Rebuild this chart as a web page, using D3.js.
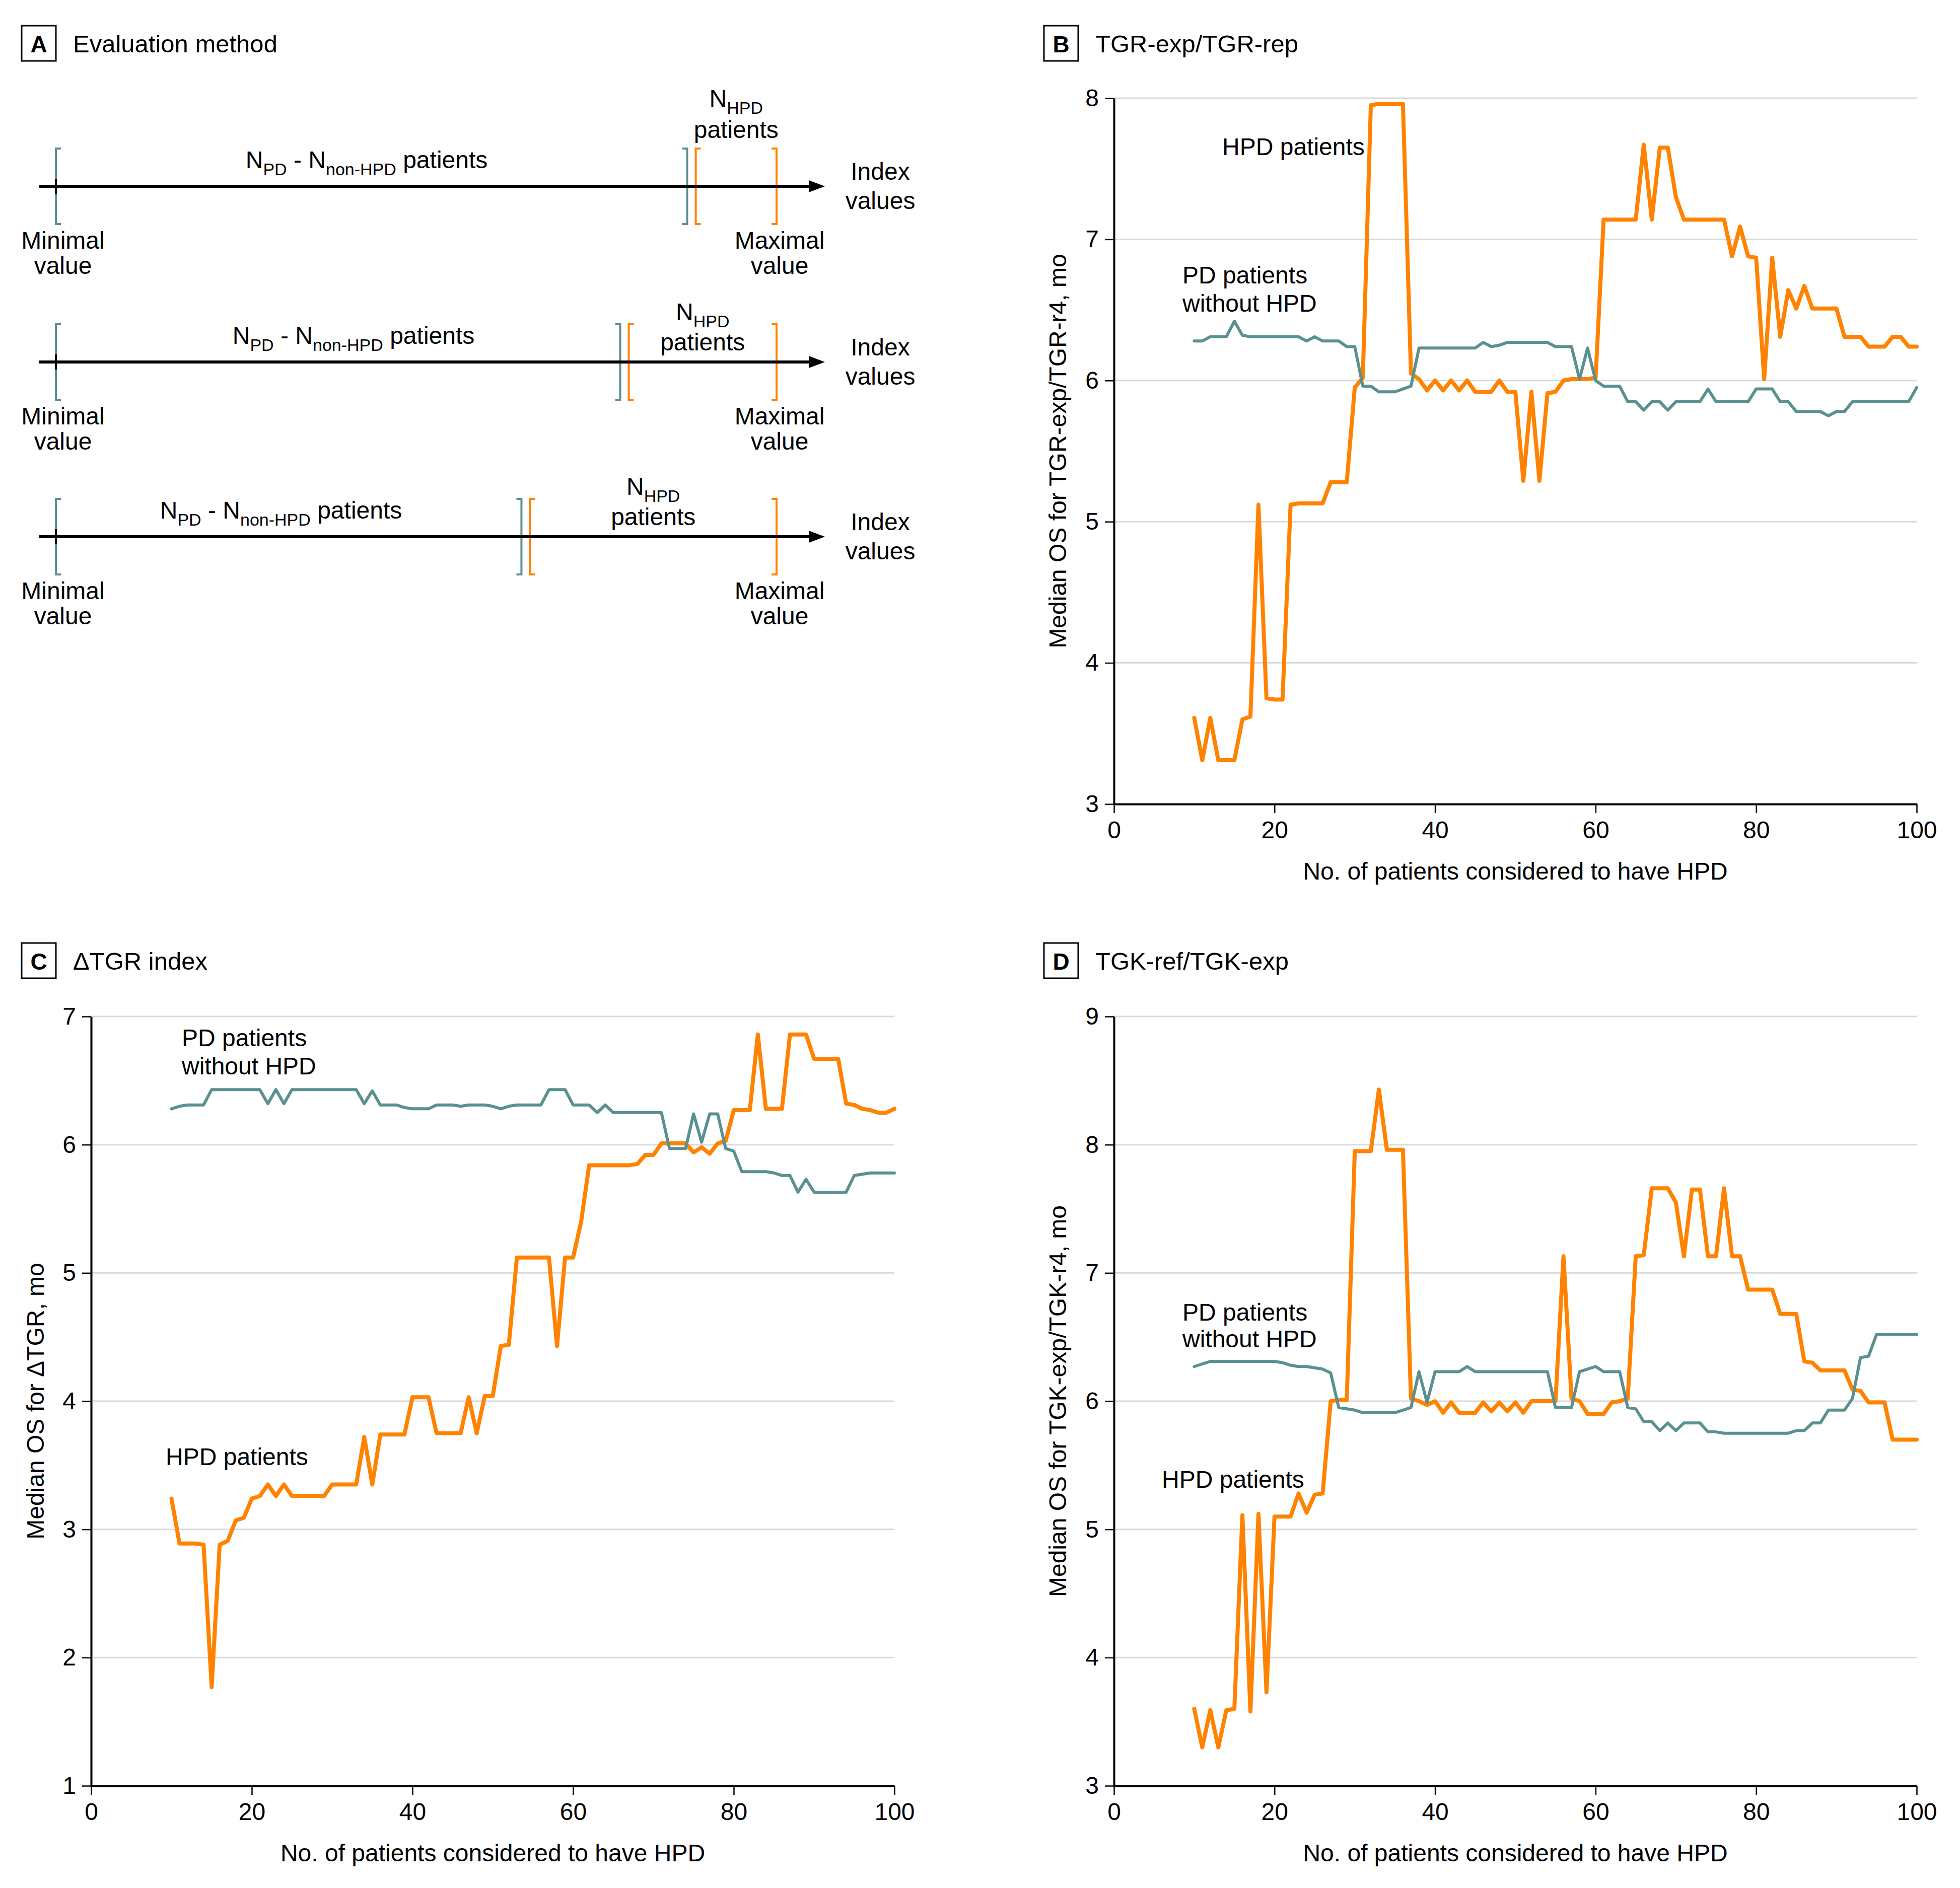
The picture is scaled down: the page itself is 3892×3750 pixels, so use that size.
<!DOCTYPE html>
<html>
<head>
<meta charset="utf-8">
<script src="https://cdn.jsdelivr.net/npm/d3@7"></script>
<style>
  body { margin: 0; background: #fff; }
  text { font-family: "Liberation Sans", Arial, sans-serif; white-space: pre; }
</style>
</head>
<body>
<svg id="fig" width="3892" height="3750"></svg>
<script>
// number of patients considered to have HPD runs from 10 to 100, one value each
var firstN = 10;

// B: TGR-exp/TGR-rep
var tgrHpd = [3.61, 3.31, 3.61, 3.31, 3.31, 3.31, 3.60, 3.62, 5.12, 3.75,
  3.74, 3.74, 5.12, 5.13, 5.13, 5.13, 5.13, 5.28, 5.28, 5.28,
  5.95, 6.02, 7.95, 7.96, 7.96, 7.96, 7.96, 6.05, 6.01, 5.93,
  6.00, 5.93, 6.00, 5.93, 6.00, 5.92, 5.92, 5.92, 6.00, 5.92,
  5.92, 5.29, 5.92, 5.29, 5.91, 5.92, 6.00, 6.01, 6.01, 6.01,
  6.02, 7.14, 7.14, 7.14, 7.14, 7.14, 7.67, 7.14, 7.65, 7.65,
  7.30, 7.14, 7.14, 7.14, 7.14, 7.14, 7.14, 6.88, 7.09, 6.88,
  6.87, 6.01, 6.87, 6.31, 6.64, 6.51, 6.67, 6.51, 6.51, 6.51,
  6.51, 6.31, 6.31, 6.31, 6.24, 6.24, 6.24, 6.31, 6.31, 6.24,
  6.24];
var tgrPd = [6.28, 6.28, 6.31, 6.31, 6.31, 6.42, 6.32, 6.31, 6.31, 6.31,
  6.31, 6.31, 6.31, 6.31, 6.28, 6.31, 6.28, 6.28, 6.28, 6.24,
  6.24, 5.96, 5.96, 5.92, 5.92, 5.92, 5.94, 5.96, 6.23, 6.23,
  6.23, 6.23, 6.23, 6.23, 6.23, 6.23, 6.27, 6.24, 6.25, 6.27,
  6.27, 6.27, 6.27, 6.27, 6.27, 6.24, 6.24, 6.24, 6.01, 6.23,
  6.00, 5.96, 5.96, 5.96, 5.85, 5.85, 5.79, 5.85, 5.85, 5.79,
  5.85, 5.85, 5.85, 5.85, 5.94, 5.85, 5.85, 5.85, 5.85, 5.85,
  5.94, 5.94, 5.94, 5.85, 5.85, 5.78, 5.78, 5.78, 5.78, 5.75,
  5.78, 5.78, 5.85, 5.85, 5.85, 5.85, 5.85, 5.85, 5.85, 5.85,
  5.95];

// C: delta TGR index
var dtgrHpd = [3.24, 2.89, 2.89, 2.89, 2.88, 1.77, 2.88, 2.91, 3.07, 3.09,
  3.24, 3.26, 3.35, 3.26, 3.35, 3.26, 3.26, 3.26, 3.26, 3.26,
  3.35, 3.35, 3.35, 3.35, 3.72, 3.35, 3.74, 3.74, 3.74, 3.74,
  4.03, 4.03, 4.03, 3.75, 3.75, 3.75, 3.75, 4.03, 3.75, 4.04,
  4.04, 4.43, 4.44, 5.12, 5.12, 5.12, 5.12, 5.12, 4.43, 5.12,
  5.12, 5.40, 5.84, 5.84, 5.84, 5.84, 5.84, 5.84, 5.85, 5.92,
  5.92, 6.01, 6.01, 6.01, 6.01, 5.94, 5.98, 5.93, 6.01, 6.03,
  6.27, 6.27, 6.27, 6.86, 6.28, 6.28, 6.28, 6.86, 6.86, 6.86,
  6.67, 6.67, 6.67, 6.67, 6.32, 6.31, 6.28, 6.27, 6.25, 6.25,
  6.28];
var dtgrPd = [6.28, 6.30, 6.31, 6.31, 6.31, 6.43, 6.43, 6.43, 6.43, 6.43,
  6.43, 6.43, 6.32, 6.43, 6.32, 6.43, 6.43, 6.43, 6.43, 6.43,
  6.43, 6.43, 6.43, 6.43, 6.32, 6.42, 6.31, 6.31, 6.31, 6.29,
  6.28, 6.28, 6.28, 6.31, 6.31, 6.31, 6.30, 6.31, 6.31, 6.31,
  6.30, 6.28, 6.30, 6.31, 6.31, 6.31, 6.31, 6.43, 6.43, 6.43,
  6.31, 6.31, 6.31, 6.25, 6.31, 6.25, 6.25, 6.25, 6.25, 6.25,
  6.25, 6.25, 5.97, 5.97, 5.97, 6.24, 6.02, 6.24, 6.24, 5.97,
  5.95, 5.79, 5.79, 5.79, 5.79, 5.78, 5.76, 5.76, 5.63, 5.73,
  5.63, 5.63, 5.63, 5.63, 5.63, 5.76, 5.77, 5.78, 5.78, 5.78,
  5.78];

// D: TGK-ref/TGK-exp
var tgkHpd = [3.60, 3.30, 3.59, 3.30, 3.59, 3.60, 5.11, 3.58, 5.12, 3.73,
  5.10, 5.10, 5.10, 5.28, 5.13, 5.27, 5.28, 6.00, 6.01, 6.01,
  7.95, 7.95, 7.95, 8.43, 7.96, 7.96, 7.96, 6.02, 6.00, 5.97,
  6.00, 5.91, 5.99, 5.91, 5.91, 5.91, 5.99, 5.92, 5.99, 5.92,
  5.99, 5.91, 6.00, 6.00, 6.00, 6.00, 7.13, 6.02, 6.00, 5.90,
  5.90, 5.90, 5.99, 6.00, 6.02, 7.13, 7.14, 7.66, 7.66, 7.66,
  7.55, 7.13, 7.65, 7.65, 7.13, 7.13, 7.66, 7.13, 7.13, 6.87,
  6.87, 6.87, 6.87, 6.68, 6.68, 6.68, 6.31, 6.30, 6.24, 6.24,
  6.24, 6.24, 6.09, 6.08, 5.99, 5.99, 5.99, 5.70, 5.70, 5.70,
  5.70];
var tgkPd = [6.27, 6.29, 6.31, 6.31, 6.31, 6.31, 6.31, 6.31, 6.31, 6.31,
  6.31, 6.30, 6.28, 6.27, 6.27, 6.26, 6.25, 6.22, 5.95, 5.94,
  5.93, 5.91, 5.91, 5.91, 5.91, 5.91, 5.93, 5.95, 6.23, 5.99,
  6.23, 6.23, 6.23, 6.23, 6.27, 6.23, 6.23, 6.23, 6.23, 6.23,
  6.23, 6.23, 6.23, 6.23, 6.23, 5.95, 5.95, 5.95, 6.23, 6.25,
  6.27, 6.23, 6.23, 6.23, 5.95, 5.94, 5.84, 5.84, 5.77, 5.83,
  5.77, 5.83, 5.83, 5.83, 5.76, 5.76, 5.75, 5.75, 5.75, 5.75,
  5.75, 5.75, 5.75, 5.75, 5.75, 5.77, 5.77, 5.83, 5.83, 5.93,
  5.93, 5.93, 6.02, 6.34, 6.35, 6.52, 6.52, 6.52, 6.52, 6.52,
  6.52];

var xTicks = [0, 20, 40, 60, 80, 100];
var tgrTicks = [3, 4, 5, 6, 7, 8];
var dtgrTicks = [1, 2, 3, 4, 5, 6, 7];
var tgkTicks = [3, 4, 5, 6, 7, 8, 9];

// panel A: where the HPD group starts on the index axis (fraction of the range)
var cutoffs = [0.876, 0.783, 0.646];

var ORANGE = "#ff8200", TEAL = "#5a9190";
var svg = d3.select("#fig");
svg.append("rect").attr("width", 3892).attr("height", 3750).attr("fill", "#fff");

function panelTitle(letter, title, x, baseline) {
  svg.append("rect").attr("x", x).attr("y", baseline - 53).attr("width", 68).attr("height", 70)
    .attr("fill", "none").attr("stroke", "#000").attr("stroke-width", 3);
  svg.append("text").attr("x", x + 34).attr("y", baseline).attr("text-anchor", "middle")
    .attr("font-size", 46).attr("font-weight", "bold").text(letter);
  svg.append("text").attr("x", x + 102).attr("y", baseline).attr("font-size", 49).text(title);
}

function subText(sel, parts) {
  // parts: [text, isSub]
  var sub = false;
  parts.forEach(function (p) {
    var t = sel.append("tspan").text(p[0]);
    if (p[1] && !sub) { t.attr("font-size", 34).attr("dy", 14); sub = true; }
    else if (!p[1] && sub) { t.attr("font-size", 48).attr("dy", -14); sub = false; }
  });
}

// ---- panel A ----
panelTitle("A", "Evaluation method", 43, 104);
var idx = d3.scaleLinear().domain([0, 1]).range([111, 1542]);
var rowY = [370, 719, 1066];
var npdX = [728, 702, 558];
var nhpdDy = [[-158, -96], [-83, -23], [-83, -23]];

function bracket(g, x, y, dir, color) {
  // dir 1 = "[" , -1 = "]"
  g.append("path")
    .attr("d", "M" + (x + dir * 10) + "," + (y - 75) + "H" + x + "V" + (y + 75) + "H" + (x + dir * 10))
    .attr("fill", "none").attr("stroke", color).attr("stroke-width", 4);
}

rowY.forEach(function (y, i) {
  var g = svg.append("g");
  var cut = idx(cutoffs[i]);
  bracket(g, idx(0), y, 1, TEAL);
  bracket(g, cut, y, -1, TEAL);
  bracket(g, cut + 17, y, 1, ORANGE);
  bracket(g, idx(1), y, -1, ORANGE);
  g.append("line").attr("x1", 78).attr("x2", 1612).attr("y1", y).attr("y2", y)
    .attr("stroke", "#000").attr("stroke-width", 6);
  g.append("path").attr("d", "M1638," + y + "L1606," + (y - 12) + "L1606," + (y + 12) + "Z").attr("fill", "#000");
  g.append("line").attr("x1", idx(0)).attr("x2", idx(0)).attr("y1", y - 15).attr("y2", y + 15)
    .attr("stroke", "#000").attr("stroke-width", 4);

  var t1 = g.append("text").attr("x", npdX[i]).attr("y", y - 36).attr("text-anchor", "middle").attr("font-size", 48);
  subText(t1, [["N", false], ["PD", true], [" - N", false], ["non-HPD", true], [" patients", false]]);

  var mid = (cut + 17 + idx(1)) / 2;
  var t2 = g.append("text").attr("x", mid).attr("y", y + nhpdDy[i][0]).attr("text-anchor", "middle").attr("font-size", 48);
  subText(t2, [["N", false], ["HPD", true]]);
  g.append("text").attr("x", mid).attr("y", y + nhpdDy[i][1]).attr("text-anchor", "middle").attr("font-size", 48).text("patients");

  g.append("text").attr("x", 1748).attr("y", y - 13).attr("text-anchor", "middle").attr("font-size", 48).text("Index");
  g.append("text").attr("x", 1748).attr("y", y + 45).attr("text-anchor", "middle").attr("font-size", 48).text("values");
  g.append("text").attr("x", 125).attr("y", y + 124).attr("text-anchor", "middle").attr("font-size", 48).text("Minimal");
  g.append("text").attr("x", 125).attr("y", y + 174).attr("text-anchor", "middle").attr("font-size", 48).text("value");
  g.append("text").attr("x", 1548).attr("y", y + 124).attr("text-anchor", "middle").attr("font-size", 48).text("Maximal");
  g.append("text").attr("x", 1548).attr("y", y + 174).attr("text-anchor", "middle").attr("font-size", 48).text("value");
});

// ---- line panels ----
function linePanel(cfg) {
  var x = d3.scaleLinear().domain([0, 100]).range([cfg.left, cfg.right]);
  var y = d3.scaleLinear().domain(d3.extent(cfg.yTicks)).range([cfg.bottom, cfg.top]);
  var g = svg.append("g");

  g.selectAll("line.grid").data(cfg.yTicks).join("line").attr("class", "grid")
    .attr("x1", cfg.left).attr("x2", cfg.right)
    .attr("y1", function (d) { return y(d); }).attr("y2", function (d) { return y(d); })
    .attr("stroke", "#d9d9d9").attr("stroke-width", 3);

  var line = d3.line()
    .x(function (d, i) { return x(firstN + i); })
    .y(function (d) { return y(d); });

  g.append("path").datum(cfg.hpd).attr("d", line).attr("fill", "none")
    .attr("stroke", ORANGE).attr("stroke-width", 8).attr("stroke-linejoin", "round").attr("stroke-linecap", "round");
  g.append("path").datum(cfg.pd).attr("d", line).attr("fill", "none")
    .attr("stroke", TEAL).attr("stroke-width", 6).attr("stroke-linejoin", "round").attr("stroke-linecap", "round");

  var yAxis = g.append("g").attr("transform", "translate(" + cfg.left + ",0)")
    .call(d3.axisLeft(y).tickValues(cfg.yTicks).tickFormat(d3.format("d"))
      .tickSize(18).tickSizeOuter(0).tickPadding(12));
  var xAxis = g.append("g").attr("transform", "translate(0," + cfg.bottom + ")")
    .call(d3.axisBottom(x).tickValues(xTicks).tickFormat(d3.format("d"))
      .tickSize(18).tickSizeOuter(0).tickPadding(16));
  [yAxis, xAxis].forEach(function (a) {
    a.select(".domain").attr("stroke-width", 4);
    a.selectAll(".tick line").attr("stroke-width", 2.5);
    a.selectAll("text").attr("font-size", 48).attr("font-family", null).attr("fill", "#000");
  });

  g.append("text").attr("x", (cfg.left + cfg.right) / 2).attr("y", cfg.bottom + 150)
    .attr("text-anchor", "middle").attr("font-size", 48).text("No. of patients considered to have HPD");
  g.append("text").attr("transform", "translate(" + cfg.yLabelX + "," + (cfg.top + cfg.bottom) / 2 + ") rotate(-90)")
    .attr("text-anchor", "middle").attr("dy", "0.35em").attr("font-size", 48).text(cfg.yLabel);

  cfg.notes.forEach(function (n) {
    g.append("text").attr("x", n[0]).attr("y", n[1]).attr("font-size", 48).text(n[2]);
  });
}

panelTitle("B", "TGR-exp/TGR-rep", 2073, 104);
linePanel({
  left: 2212, right: 3806, top: 195, bottom: 1597, yTicks: tgrTicks,
  hpd: tgrHpd, pd: tgrPd, yLabelX: 2100, yLabel: "Median OS for TGR-exp/TGR-r4, mo",
  notes: [[2427, 308, "HPD patients"], [2348, 563, "PD patients"], [2348, 619, "without HPD"]]
});

panelTitle("C", "\u0394TGR index", 43, 1926);
linePanel({
  left: 181, right: 1776, top: 2019, bottom: 3547, yTicks: dtgrTicks,
  hpd: dtgrHpd, pd: dtgrPd, yLabelX: 70, yLabel: "Median OS for \u0394TGR, mo",
  notes: [[361, 2078, "PD patients"], [361, 2134, "without HPD"], [329, 2910, "HPD patients"]]
});

panelTitle("D", "TGK-ref/TGK-exp", 2073, 1926);
linePanel({
  left: 2212, right: 3806, top: 2019, bottom: 3547, yTicks: tgkTicks,
  hpd: tgkHpd, pd: tgkPd, yLabelX: 2100, yLabel: "Median OS for TGK-exp/TGK-r4, mo",
  notes: [[2348, 2623, "PD patients"], [2348, 2676, "without HPD"], [2307, 2955, "HPD patients"]]
});
</script>
</body>
</html>
